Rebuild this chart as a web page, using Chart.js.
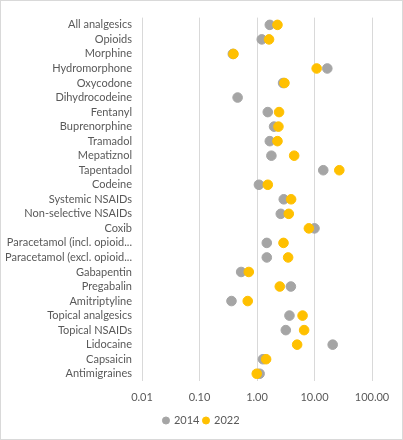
<!DOCTYPE html>
<html lang="en">
<head>
  <meta charset="UTF-8">
  <title>Dot plot 2014 vs 2022</title>
  <style>
    body {
      margin: 0;
      background: #fff;
    }
    .frame {
      width: 401px;
      height: 438px;
      border: 1px solid #d9d9d9;
      position: relative;
    }
  </style>
</head>
<body>

<div class="frame">
  <canvas id="dotChart"></canvas>
</div>

<script src="https://cdn.jsdelivr.net/npm/chart.js"></script>
<script>
  // categories, top to bottom
  const categories = [
    'All analgesics', 'Opioids', 'Morphine', 'Hydromorphone', 'Oxycodone',
    'Dihydrocodeine', 'Fentanyl', 'Buprenorphine', 'Tramadol', 'Mepatiznol',
    'Tapentadol', 'Codeine', 'Systemic NSAIDs', 'Non-selective NSAIDs', 'Coxib',
    'Paracetamol (incl. opioid...', 'Paracetamol (excl. opioid...', 'Gabapentin',
    'Pregabalin', 'Amitriptyline', 'Topical analgesics', 'Topical NSAIDs',
    'Lidocaine', 'Capsaicin', 'Antimigraines'
  ];

  // values (log scale)
  const values2014 = [1.67, 1.21, 0.38, 16.7, 2.84, 0.46, 1.54, 1.98, 1.67, 1.78,
    14.2, 1.08, 2.92, 2.59, 10.0, 1.48, 1.48, 0.53, 3.88, 0.36, 3.67, 3.17,
    20.7, 1.27, 1.11];
  const values2022 = [2.27, 1.62, 0.39, 10.9, 3.0, null, 2.42, 2.36, 2.27, 4.43,
    27.0, 1.54, 3.92, 3.57, 7.98, 2.89, 3.48, 0.72, 2.49, 0.69, 6.2, 6.6,
    4.99, 1.44, 0.99];

  const xTicks = [0.01, 0.1, 1, 10, 100];

  const toPoints = vals => vals
    .map((v, i) => ({ x: v, y: categories[i] }))
    .filter(p => p.x !== null);

  Chart.defaults.font.family = 'Lato, "Liberation Sans", sans-serif';
  Chart.defaults.font.size = 11;
  Chart.defaults.color = '#595959';

  // centre the legend on the whole frame, not on the padded area
  const centerLegend = {
    id: 'centerLegend',
    afterLayout(chart) {
      const lg = chart.legend;
      if (!lg) return;
      lg.left = 0;
      lg.right = chart.width;
      lg.width = chart.width;
    }
  };

  new Chart(document.getElementById('dotChart'), {
    type: 'scatter',
    data: {
      datasets: [
        {
          label: '2014',
          data: toPoints(values2014),
          backgroundColor: '#a5a5a5',
          borderColor: '#a5a5a5',
          pointRadius: 4.8,
          pointHoverRadius: 4.8,
          order: 2
        },
        {
          label: '2022',
          data: toPoints(values2022),
          backgroundColor: '#ffc000',
          borderColor: '#ffc000',
          pointRadius: 4.8,
          pointHoverRadius: 4.8,
          order: 1
        }
      ]
    },
    options: {
      responsive: true,
      maintainAspectRatio: false,
      animation: false,
      layout: {
        padding: { left: 0, right: 30, top: 10, bottom: 3 }
      },
      scales: {
        x: {
          type: 'logarithmic',
          min: 0.01,
          max: 100,
          afterBuildTicks: scale => {
            scale.ticks = xTicks.map(v => ({ value: v }));
          },
          ticks: {
            callback: v => Number(v).toFixed(2),
            padding: 10,
            maxRotation: 0
          },
          grid: {
            color: '#d9d9d9',
            drawTicks: false
          },
          border: { display: false },
          afterFit: scale => { scale.height = 30; }
        },
        y: {
          type: 'category',
          labels: categories,
          offset: true,
          grid: { display: false, drawTicks: false },
          border: { display: false },
          ticks: { padding: 10, autoSkip: false },
          afterFit: scale => { scale.width = 141; }
        }
      },
      plugins: {
        legend: {
          position: 'bottom',
          labels: {
            usePointStyle: true,
            pointStyle: 'circle',
            boxWidth: 5,
            boxHeight: 5,
            padding: 4,
            sort: (a, b) => a.datasetIndex - b.datasetIndex
          }
        },
        tooltip: { enabled: false }
      }
    },
    plugins: [centerLegend]
  });
</script>
</body>
</html>
